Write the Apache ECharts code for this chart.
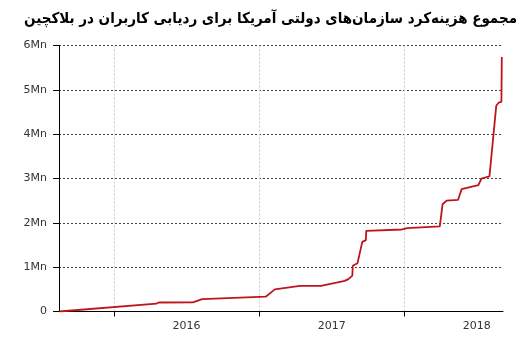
<!DOCTYPE html>
<html><head><meta charset="utf-8">
<script src="https://cdn.jsdelivr.net/npm/echarts@6/dist/echarts.min.js"></script>
<style>html,body{margin:0;padding:0;background:#fff}#c{width:530px;height:342px}</style>
</head><body><div id="c"></div>
<script>
var titleText = 'مجموع هزینه‌کرد سازمان‌های دولتی آمریکا برای ردیابی کاربران در بلاکچین';
var dates = ['2015-08-17','2016-04-17','2016-04-23','2016-07-18','2016-08-10','2017-01-17','2017-02-09','2017-04-13','2017-06-05','2017-08-04','2017-08-13','2017-08-23','2017-08-24','2017-09-05','2017-09-17','2017-09-26','2017-09-27','2017-12-26','2018-01-08','2018-03-31','2018-04-07','2018-04-17','2018-05-16','2018-05-25','2018-07-06','2018-07-14','2018-07-18','2018-08-03','2018-08-20','2018-08-26','2018-09-02','2018-09-03'];
var values = [0,0.176,0.203,0.208,0.28,0.334,0.50,0.58,0.58,0.69,0.73,0.81,1.03,1.09,1.57,1.61,1.82,1.85,1.88,1.92,2.42,2.50,2.52,2.76,2.85,3.00,3.04,3.05,4.64,4.71,4.73,5.74];
var yearTicks = ['2016-01-01','2017-01-01','2018-01-01'];
var yearLabelPos = ['2016-07-02','2017-07-02','2018-07-02'];
var yearLabels = ['2016','2017','2018'];
var yTickLabels = ['0','1Mn','2Mn','3Mn','4Mn','5Mn','6Mn'];

function ts(s){return new Date(s+'T00:00:00Z').getTime();}
var data = dates.map(function(d,i){return [ts(d), values[i]*1e6];});
var chart = echarts.init(document.getElementById('c'));
chart.setOption({
  animation:false,
  textStyle:{fontFamily:'DejaVu Sans'},
  title:{text:titleText,right:8,top:7,textStyle:{fontFamily:'DejaVu Sans Condensed',fontWeight:'bold',fontSize:15,color:'#000'}},
  grid:{left:59,right:27,top:45.5,bottom:30.5,containLabel:false},
  xAxis:{type:'value',min:ts('2015-08-16'),max:ts('2018-09-06'),
    axisLine:{lineStyle:{color:'#000',width:1}},
    axisTick:{show:true,length:5,lineStyle:{color:'#000'},customValues:yearTicks.map(ts)},
    axisLabel:{color:'#333',fontSize:11,margin:9,customValues:yearLabelPos.map(ts),
      formatter:function(v){var y=new Date(v).getUTCFullYear();return yearLabels[y-2016];}},
    splitLine:{show:true,lineStyle:{color:'#ccc',type:[2,2]}}},
  yAxis:{type:'value',min:0,max:6e6,interval:1e6,
    axisLine:{show:true,lineStyle:{color:'#000'}},
    axisTick:{show:true,length:6,lineStyle:{color:'#000'}},
    axisLabel:{color:'#333',fontSize:11,margin:12,formatter:function(v){return yTickLabels[Math.round(v/1e6)];}},
    splitLine:{show:true,lineStyle:{color:'#444',type:[2,2]}}},
  series:[{type:'line',data:data,showSymbol:false,lineStyle:{color:'#c0141c',width:1.8},itemStyle:{color:'#c0141c'}}]
});
</script></body></html>
